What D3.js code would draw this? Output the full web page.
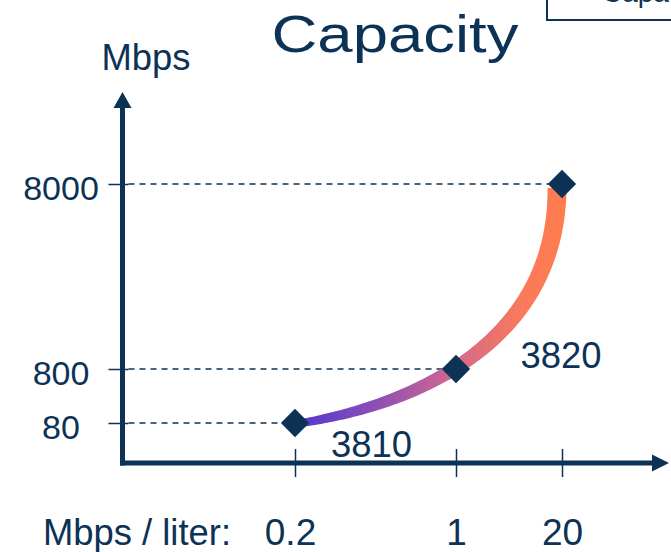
<!DOCTYPE html>
<html>
<head>
<meta charset="utf-8">
<script src="https://cdn.jsdelivr.net/npm/d3@7"></script>
<style>
  html, body { margin: 0; padding: 0; background: #ffffff; }
  svg { display: block; }
  text { font-family: "Liberation Sans", Arial, sans-serif; fill: #0c3256; }
</style>
</head>
<body>
<script>
// ---- data ----
const xValues = [0.2, 1, 20];          // Mbps / liter
const yValues = [80, 800, 8000];       // Mbps
const xTickLabels = ["0.2", "1", "20"];
const yTickLabels = ["80", "800", "8000"];
const segmentLabels = ["3810", "3820"];
const titleText = "Capacity";
const yAxisTitle = "Mbps";
const xAxisTitle = "Mbps / liter:";

// ---- layout ----
const W = 671, H = 552;
const navy = "#0c3256";
const axisX = 122.5, axisY = 463;

const svg = d3.select("body").append("svg").attr("width", W).attr("height", H);

const x = d3.scaleLinear().domain(xValues).range([295, 456, 562]);
const y = d3.scaleLinear().domain(yValues).range([423, 369, 184]);

// top-right box (partially visible, as in the reference)
svg.append("rect").attr("x", 547).attr("y", -20).attr("width", 200).attr("height", 40)
  .attr("fill", "#fff").attr("stroke", navy).attr("stroke-width", 2);
svg.append("text").attr("x", 602).attr("y", 2).attr("font-size", 28).text(titleText);

// title
svg.append("text").attr("x", 395).attr("y", 52).attr("text-anchor", "middle")
  .attr("font-size", 52).attr("textLength", 247).attr("lengthAdjust", "spacingAndGlyphs")
  .text(titleText);

// y axis title
svg.append("text").attr("x", 146).attr("y", 70).attr("text-anchor", "middle")
  .attr("font-size", 36).attr("textLength", 89).attr("lengthAdjust", "spacingAndGlyphs")
  .text(yAxisTitle);

// x axis title
svg.append("text").attr("x", 43).attr("y", 545).attr("font-size", 36)
  .attr("textLength", 188).attr("lengthAdjust", "spacingAndGlyphs").text(xAxisTitle);

// dashed guide lines
const pts = xValues.map((v, i) => [x(v), y(yValues[i])]);
svg.append("g").selectAll("line").data(pts).join("line")
  .attr("x1", axisX + 6).attr("x2", d => d[0]).attr("y1", d => d[1]).attr("y2", d => d[1])
  .attr("stroke", navy).attr("stroke-width", 1.5).attr("stroke-dasharray", "6,5");

// y axis ticks + labels
const gy = svg.append("g").attr("transform", `translate(${axisX},0)`)
  .call(d3.axisLeft(y).tickValues(yValues).tickFormat((d, i) => yTickLabels[i]).tickSize(14));
gy.select(".domain").remove();
gy.selectAll(".tick line").attr("x2", -14).attr("x1", 6).attr("stroke", navy).attr("stroke-width", 1.5);
gy.selectAll(".tick text").attr("x", 61 - axisX).attr("dy", null).attr("y", 15)
  .attr("text-anchor", "middle").attr("font-size", 34)
  .attr("font-family", "'Liberation Sans', Arial, sans-serif").attr("fill", navy);

// x axis ticks + labels
const gx = svg.append("g").attr("transform", `translate(0,${axisY})`)
  .call(d3.axisBottom(x).tickValues(xValues).tickFormat((d, i) => xTickLabels[i]).tickSize(14));
gx.select(".domain").remove();
gx.selectAll(".tick line").attr("y1", -14).attr("y2", 14).attr("stroke", navy).attr("stroke-width", 1.5);
gx.selectAll(".tick text").attr("dy", null).attr("y", 82)
  .attr("dx", (d, i) => i === 0 ? -5 : 0)
  .attr("font-size", 37).attr("font-family", "'Liberation Sans', Arial, sans-serif").attr("fill", navy);

// axes lines with arrows
svg.append("line").attr("x1", axisX).attr("x2", axisX).attr("y1", axisY + 2.5).attr("y2", 106)
  .attr("stroke", navy).attr("stroke-width", 5);
svg.append("path").attr("d", `M${axisX},92 L${axisX - 9},108 L${axisX + 9},108 Z`).attr("fill", navy);
svg.append("line").attr("x1", axisX - 2.5).attr("x2", 654).attr("y1", axisY).attr("y2", axisY)
  .attr("stroke", navy).attr("stroke-width", 5);
svg.append("path").attr("d", `M669,${axisY} L652,${axisY - 8.5} L652,${axisY + 8.5} Z`).attr("fill", navy);

// gradient
const defs = svg.append("defs");
const grad = defs.append("linearGradient").attr("id", "curveGrad")
  .attr("gradientUnits", "userSpaceOnUse")
  .attr("x1", x(xValues[0])).attr("y1", 0).attr("x2", x(xValues[2])).attr("y2", 0);
[[0, "#5236d2"], [0.3, "#8c4fb6"], [0.6, "#d3698c"], [0.85, "#f97a5c"], [1, "#ff7c4d"]]
  .forEach(([o, c]) => grad.append("stop").attr("offset", o).attr("stop-color", c));

// tapered curve through the data points (cubic bezier)
const P0 = [x(xValues[0]), y(yValues[0]) + 1];
const P1 = [x(xValues[0]) + 125, y(yValues[0]) - 18];
const P2 = [x(xValues[2]) - 5, y(yValues[1]) - 29];
const P3 = [x(xValues[2]) - 5, y(yValues[2]) + 4];
function bez(t) {
  const u = 1 - t;
  return [
    u*u*u*P0[0] + 3*u*u*t*P1[0] + 3*u*t*t*P2[0] + t*t*t*P3[0],
    u*u*u*P0[1] + 3*u*u*t*P1[1] + 3*u*t*t*P2[1] + t*t*t*P3[1]
  ];
}
function dbez(t) {
  const u = 1 - t;
  return [
    3*u*u*(P1[0]-P0[0]) + 6*u*t*(P2[0]-P1[0]) + 3*t*t*(P3[0]-P2[0]),
    3*u*u*(P1[1]-P0[1]) + 6*u*t*(P2[1]-P1[1]) + 3*t*t*(P3[1]-P2[1])
  ];
}
const N = 120, left = [], right = [];
for (let i = 0; i <= N; i++) {
  const t = i / N;
  const p = bez(t), d = dbez(t);
  const len = Math.hypot(d[0], d[1]) || 1;
  const nx = -d[1] / len, ny = d[0] / len;
  const w = (7 + 12 * Math.pow(t, 0.7)) / 2;
  left.push([p[0] + nx * w, p[1] + ny * w]);
  right.push([p[0] - nx * w, p[1] - ny * w]);
}
const poly = left.concat(right.reverse());
svg.append("path").attr("d", d3.line()(poly) + "Z").attr("fill", "url(#curveGrad)");

// diamonds
svg.append("g").selectAll("path").data(pts).join("path")
  .attr("transform", d => `translate(${d[0]},${d[1]}) rotate(45)`)
  .attr("d", d3.symbol().type(d3.symbolSquare).size(400))
  .attr("fill", navy);

// segment labels
const labelPos = [
  [(x(xValues[0]) + x(xValues[1])) / 2 - 4, axisY - 6],
  [x(xValues[2]) - 1, y(yValues[1]) - 1]
];
svg.append("g").selectAll("text").data(segmentLabels).join("text")
  .attr("x", (d, i) => labelPos[i][0]).attr("y", (d, i) => labelPos[i][1])
  .attr("text-anchor", "middle").attr("font-size", 37)
  .attr("textLength", 81).attr("lengthAdjust", "spacingAndGlyphs").text(d => d);
</script>
</body>
</html>
